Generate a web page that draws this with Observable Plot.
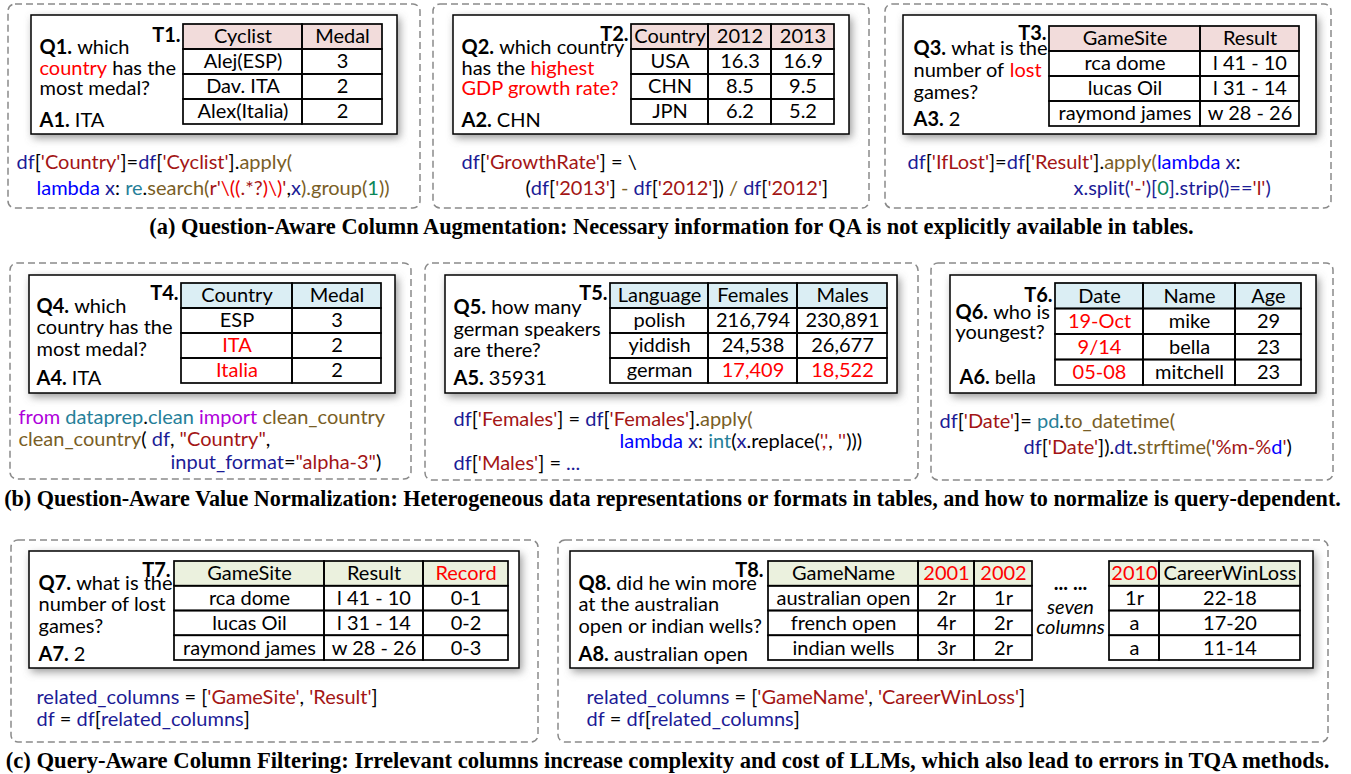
<!DOCTYPE html>
<html><head><meta charset="utf-8">
<script src="https://cdn.jsdelivr.net/npm/d3@7"></script>
<script src="https://cdn.jsdelivr.net/npm/@observablehq/plot@0.6"></script>
<style>body{margin:0;background:#fff} #chart svg{display:block}</style>
</head><body><div id="chart"></div>
<script>
// ---------------- DATA ----------------
// Roles: l=bold label, p=plain, h=highlight(red), v=variable, s=string, f=function, k=keyword, m=module, n=number, e=escape, i=import
const questions = [
  ["lQ1.|p which", "hcountry|p has the", "pmost medal?"],
  ["lQ2.|p which country", "phas the |hhighest", "hGDP growth rate?"],
  ["lQ3.|p what is the", "pnumber of |hlost", "pgames?"],
  ["lQ4.|p which", "pcountry has the", "pmost medal?"],
  ["lQ5.|p how many", "pgerman speakers", "pare there?"],
  ["lQ6.|p who is", "pyoungest?"],
  ["lQ7.|p what is the", "pnumber of lost", "pgames?"],
  ["lQ8.|p did he win more", "pat the australian", "popen or indian wells?"]
];
const answers = ["lA1.|p ITA", "lA2.|p CHN", "lA3.|p 2", "lA4.|p ITA", "lA5.|p 35931", "lA6.|p bella", "lA7.|p 2", "lA8.|p australian open"];
const tableLabels = ["T1.", "T2.", "T3.", "T4.", "T5.", "T6.", "T7.", "T8."];

// "!" marks a highlighted (red) cell
const tableHeaders = [
  [["Cyclist", "Medal"]],
  [["Country", "2012", "2013"]],
  [["GameSite", "Result"]],
  [["Country", "Medal"]],
  [["Language", "Females", "Males"]],
  [["Date", "Name", "Age"]],
  [["GameSite", "Result", "!Record"]],
  [["GameName", "!2001", "!2002"], ["!2010", "CareerWinLoss"]]
];
const tableRows = [
  [[["Alej(ESP)", "3"], ["Dav. ITA", "2"], ["Alex(Italia)", "2"]]],
  [[["USA", "16.3", "16.9"], ["CHN", "8.5", "9.5"], ["JPN", "6.2", "5.2"]]],
  [[["rca dome", "l 41 - 10"], ["lucas Oil", "l 31 - 14"], ["raymond james", "w 28 - 26"]]],
  [[["ESP", "3"], ["!ITA", "2"], ["!Italia", "2"]]],
  [[["polish", "216,794", "230,891"], ["yiddish", "24,538", "26,677"], ["german", "!17,409", "!18,522"]]],
  [[["!19-Oct", "mike", "29"], ["!9/14", "bella", "23"], ["!05-08", "mitchell", "23"]]],
  [[["rca dome", "l 41 - 10", "0-1"], ["lucas Oil", "l 31 - 14", "0-2"], ["raymond james", "w 28 - 26", "0-3"]]],
  [[["australian open", "2r", "1r"], ["french open", "4r", "2r"], ["indian wells", "3r", "2r"]],
   [["1r", "22-18"], ["a", "17-20"], ["a", "11-14"]]]
];
const skipNote = ["... ...", "seven", "columns"];

const codeLines = [
  ["vdf|p[|s'Country'|p]=|vdf|p[|s'Cyclist'|p].|fapply(",
   "klambda|v x|p: |mre|p.|fsearch(|sr'|e\\((|s.*?|e)\\)|s'|p,|vx|f).group(|n1|f))"],
  ["vdf|p[|s'GrowthRate'|p] = \\",
   "p(|vdf|p[|s'2013'|p] |f-|p |vdf|p[|s'2012'|p]) |f/|p |vdf|p[|s'2012'|p]"],
  ["vdf|p[|s'IfLost'|p]=|vdf|p[|s'Result'|p].|fapply(|klambda|v x|p:",
   "vx.split(|s'-'|v)[|n0|v].strip()==|s'l'|v)"],
  ["ifrom|m dataprep|p.|mclean|i import|f clean_country",
   "fclean_country|p( |vdf|p, |s\"Country\"|p,",
   "vinput_format|p=|s\"alpha-3\"|p)"],
  ["vdf|p[|s'Females'|p] = |vdf|p[|s'Females'|p].|fapply(",
   "klambda|v x|p: |mint|p(|vx|p.replace(|s','|p, |s''|p)))",
   "vdf|p[|s'Males'|p] = |v..."],
  ["vdf|p[|s'Date'|p]= |mpd|p.|fto_datetime(",
   "vdf|p[|s'Date'|p]).|vdt|p.|fstrftime(|s'%m-%|kd|s'|p)"],
  ["vrelated_columns|p = [|s'GameSite'|p, |s'Result'|p]",
   "vdf|p = |vdf|p[|vrelated_columns|p]"],
  ["vrelated_columns|p = [|s'GameName'|p, |s'CareerWinLoss'|p]",
   "vdf|p = |vdf|p[|vrelated_columns|p]"]
];
const captions = [
  "(a) Question-Aware Column Augmentation: Necessary information for QA is not explicitly available in tables.",
  "(b) Question-Aware Value Normalization: Heterogeneous data representations or formats in tables, and how to normalize is query-dependent.",
  "(c) Query-Aware Column Filtering: Irrelevant columns increase complexity and cost of LLMs, which also lead to errors in TQA methods."
];

// ---------------- LAYOUT ----------------
const layout = [
  {theme: "a", dash: [8, 4, 420, 208], box: [31, 15, 397, 134], tables: [{cols: [183, 302, 382], y: [24, 124]}], label: [180, 35], qx: 39, qy: [47, 68, 88], a: [39, 120], code: [[16, 162], [36, 188]]},
  {theme: "a", dash: [433, 4, 869, 208], box: [453, 15, 849, 134], tables: [{cols: [631, 708, 771, 834], y: [24, 124]}], label: [628, 34], qx: 461, qy: [47, 68, 88], a: [461, 120], code: [[461, 162], [525, 188]]},
  {theme: "a", dash: [885, 4, 1331, 208], box: [903, 15, 1316, 134], tables: [{cols: [1049, 1200, 1299], y: [26, 126]}], label: [1046, 33], qx: 913, qy: [48, 70, 92], a: [913, 119], code: [[907, 162], [1073, 188]]},
  {theme: "b", dash: [10, 263, 411, 479], box: [29, 275, 395, 393], tables: [{cols: [181, 292, 381], y: [283, 383]}], label: [178, 293], qx: 36, qy: [306, 327, 349], a: [36, 378], code: [[18, 417], [18, 439], [170, 462]]},
  {theme: "b", dash: [425, 263, 918, 480], box: [445, 275, 897, 393], tables: [{cols: [610, 708, 797, 887], y: [283, 383]}], label: [607, 293], qx: 453, qy: [307, 329, 350], a: [453, 378], code: [[453, 419], [619, 441], [453, 463]]},
  {theme: "b", dash: [931, 263, 1333, 480], box: [950, 275, 1316, 393], tables: [{cols: [1055, 1143, 1235, 1301], y: [283, 385]}], label: [1052, 295], qx: 955, qy: [312, 332], a: [959, 377], code: [[939, 421], [1023, 447]]},
  {theme: "c", dash: [11, 540, 538, 742], box: [29, 551, 519, 668], tables: [{cols: [174, 324, 423, 508], y: [561, 660]}], label: [170, 570], qx: 38, qy: [583, 604, 626], a: [38, 654], code: [[36, 697], [36, 719]]},
  {theme: "c", dash: [558, 540, 1328, 742], box: [570, 551, 1313, 668], tables: [{cols: [768, 918, 974, 1032], y: [561, 660]}, {cols: [1109, 1159, 1300], y: [561, 660]}], label: [763, 570], qx: 578, qy: [583, 604, 626], a: [578, 654], code: [[586, 697], [586, 719]], note: {x: 1070, y: [583, 607, 627]}}
];
const captionPos = [{x: 671, y: 226, w: 1048}, {x: 672, y: 498, w: 1338}, {x: 667, y: 760, w: 1326}];

// ---------------- STYLE ----------------
const FAMILY = "Lato";
const SIZE = 20;
const CAPFAMILY = "Liberation Serif";
const themeFill = {a: "#f2dcdb", b: "#dbeef4", c: "#ebf1de"};
const roleColor = {p: "#000000", l: "#000000", h: "#ff0000", v: "#1c1c96", s: "#a31515", f: "#795e26", k: "#0000ff", m: "#267f99", n: "#098658", e: "#ee0000", i: "#af00db"};

const ctx = document.createElement("canvas").getContext("2d");
function measure(t, weight = 400, size = SIZE, family = FAMILY, style = "normal") {
  ctx.font = `${style} ${weight} ${size}px "${family}"`;
  return ctx.measureText(t).width;
}

// ---------------- BUILD ----------------
const texts = [];   // {x,y,text,color,weight,style,anchor,size,family}
function rich(str, x, y) {
  let cx = x;
  for (const seg of str.split("|")) {
    const role = seg[0], t = seg.slice(1);
    const weight = role === "l" ? 700 : 400;
    const lead = t.match(/^\s*/)[0];
    const body = t.trim();
    if (body) texts.push({x: cx + measure(lead, weight), y, text: body, color: roleColor[role], weight, style: "normal", anchor: "start", size: SIZE, family: FAMILY});
    cx += measure(t, weight);
  }
}

const dashBoxes = [], innerBoxes = [], headerCells = [], cells = [];
layout.forEach((L, i) => {
  dashBoxes.push({x1: L.dash[0], y1: L.dash[1], x2: L.dash[2], y2: L.dash[3]});
  innerBoxes.push({x1: L.box[0], y1: L.box[1], x2: L.box[2], y2: L.box[3]});
  questions[i].forEach((q, j) => rich(q, L.qx, L.qy[j]));
  rich(answers[i], L.a[0], L.a[1]);
  codeLines[i].forEach((c, j) => rich(c, L.code[j][0], L.code[j][1]));
  texts.push({x: L.label[0], y: L.label[1], text: tableLabels[i], color: "#000", weight: 700, style: "normal", anchor: "end", size: SIZE, family: FAMILY});
  L.tables.forEach((T, k) => {
    const rows = [tableHeaders[i][k], ...tableRows[i][k]];
    const h = (T.y[1] - T.y[0]) / rows.length;
    rows.forEach((row, r) => {
      row.forEach((val, c) => {
        const cell = {x1: T.cols[c], x2: T.cols[c + 1], y1: T.y[0] + r * h, y2: T.y[0] + (r + 1) * h, fill: themeFill[L.theme]};
        cells.push(cell);
        if (r === 0) headerCells.push(cell);
        const hl = val.startsWith("!");
        texts.push({x: (cell.x1 + cell.x2) / 2, y: (cell.y1 + cell.y2) / 2, text: hl ? val.slice(1) : val, color: hl ? "#ff0000" : "#000", weight: 400, style: "normal", anchor: "middle", size: SIZE, family: FAMILY});
      });
    });
  });
  if (L.note) {
    skipNote.forEach((t, j) => texts.push({x: L.note.x, y: L.note.y[j], text: t, color: "#000", weight: j === 0 ? 700 : 400, style: j === 0 ? "normal" : "italic", anchor: "middle", size: SIZE, family: FAMILY}));
  }
});
captions.forEach((c, i) => {
  const P = captionPos[i];
  const size = P.w / (measure(c, 700, 100, CAPFAMILY) / 100);
  texts.push({x: P.x, y: P.y, text: c, color: "#000", weight: 700, style: "normal", anchor: "middle", size, family: CAPFAMILY});
});

// group texts by style so each mark gets constant styling
const groups = d3.groups(texts, d => [d.color, d.weight, d.style, d.anchor, d.size, d.family].join("|"));
const textMarks = groups.map(([key, data]) => {
  const d0 = data[0];
  return Plot.text(data, {x: "x", y: "y", text: "text", fill: d0.color, fontWeight: d0.weight, fontStyle: d0.style, textAnchor: d0.anchor, fontSize: d0.size, fontFamily: d0.family});
});

const svg = Plot.plot({
  width: 1351, height: 774, margin: 0,
  x: {domain: [0, 1351], range: [0, 1351], axis: null},
  y: {domain: [0, 774], range: [0, 774], axis: null},
  style: {background: "#fff", overflow: "visible"},
  marks: [
    Plot.rect(innerBoxes, {x1: d => d.x1 + 2, x2: d => d.x2 + 3, y1: d => d.y1 + 3, y2: d => d.y2 + 4, fill: "#777", fillOpacity: 0.75, className: "shadow"}),
    Plot.rect(innerBoxes, {x1: "x1", x2: "x2", y1: "y1", y2: "y2", fill: "#fff", stroke: "#000", strokeWidth: 1.5}),
    Plot.rect(headerCells, {x1: "x1", x2: "x2", y1: "y1", y2: "y2", fill: "fill"}),
    Plot.rect(cells, {x1: "x1", x2: "x2", y1: "y1", y2: "y2", fill: "none", stroke: "#000", strokeWidth: 1.7}),
    ...textMarks,
    Plot.rect(dashBoxes, {x1: "x1", x2: "x2", y1: "y1", y2: "y2", fill: "none", stroke: "#8a8a8a", strokeWidth: 1.5, strokeDasharray: "7,4", rx: 7})
  ],
  color: {type: "identity"}
});

const s = d3.select(svg);
const f = s.insert("defs", ":first-child").append("filter").attr("id", "softshadow")
  .attr("x", "-10%").attr("y", "-20%").attr("width", "120%").attr("height", "140%");
f.append("feGaussianBlur").attr("stdDeviation", 4);
s.selectAll(".shadow rect").attr("filter", "url(#softshadow)");

document.getElementById("chart").append(svg);
</script></body></html>
